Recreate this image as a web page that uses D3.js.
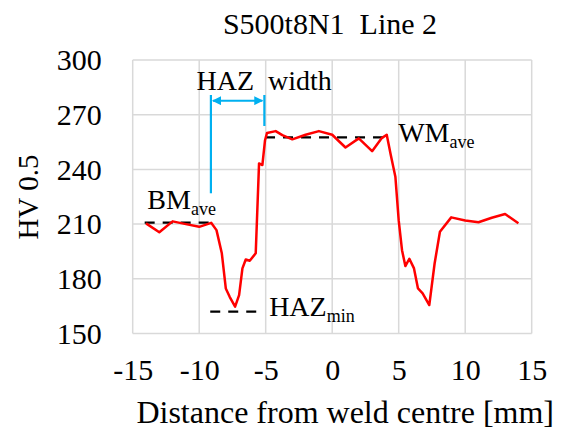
<!DOCTYPE html>
<html>
<head>
<meta charset="utf-8">
<script src="https://cdn.jsdelivr.net/npm/d3@7"></script>
</head>
<body style="margin:0;font-family:Liberation Serif">
<div id="chart"></div>
<script>
// hardness profile
var distance = [-14, -13, -12, -11, -10, -9.1, -8.7, -8.3, -8.0, -7.7, -7.3, -7.0, -6.75, -6.5, -6.2, -5.75,
  -5.5, -5.25, -5.05, -4.9, -4.25, -3.75, -3, -2, -1, 0, 1, 2, 3, 3.7, 4.1, 4.4, 4.75, 5.0, 5.25, 5.5,
  5.8, 6.15, 6.45, 6.8, 7.3, 7.7, 8.1, 8.95, 10, 11, 12, 13, 14];
var hardness = [210.4, 205.5, 211.5, 210, 208.5, 210.7, 206.7, 194, 174.7, 170, 164.7, 171, 185.7, 190.6, 189.9, 194,
  243.3, 242.4, 256, 260, 261, 258.8, 256.5, 259, 261, 259, 252, 257, 250, 257, 259, 248, 236, 212, 195.7, 187,
  191, 185.7, 174.7, 172, 165.6, 188.4, 205.8, 213.7, 212, 211, 213.5, 215.5, 210.5];

var xTicks = [-15, -10, -5, 0, 5, 10, 15];
var yTicks = [150, 180, 210, 240, 270, 300];

// averages / markers
var bmAve = [-14.1, -9.1, 210.8];     // x0, x1, y
var wmAve = [-5.05, 4.35, 257.6];
var hazMin = [-9.17, -5.6, 162];
var hazWidth = [-9.12, -5.1];         // left / right edges
var hazLeftLine = [280.8, 226.9];     // y top, y bottom
var hazRightLine = [280.8, 263.8];
var hazArrowY = 277.7;

var width = 563, height = 433;
var margin = {top: 60, right: 31.3, bottom: 99.5, left: 132.7};
var w = width - margin.left - margin.right,
    h = height - margin.top - margin.bottom;

var svg = d3.select("#chart").append("svg")
  .attr("width", width)
  .attr("height", height);

var defs = svg.append("defs");
defs.append("marker")
  .attr("id", "ah")
  .attr("viewBox", "0 0 10 10")
  .attr("refX", 9).attr("refY", 5)
  .attr("markerWidth", 4.5).attr("markerHeight", 4.5)
  .attr("orient", "auto-start-reverse")
  .append("path").attr("d", "M0,0 L10,5 L0,10 z").attr("fill", "#00b0f0");

var g = svg.append("g").attr("transform", "translate(" + margin.left + "," + margin.top + ")");

var x = d3.scaleLinear().domain([-15, 15]).range([0, w]);
var y = d3.scaleLinear().domain([150, 300]).range([h, 0]);

// grid
g.selectAll(".vgrid").data(xTicks).enter().append("line")
  .attr("x1", function(d) { return x(d); }).attr("x2", function(d) { return x(d); })
  .attr("y1", 0).attr("y2", h)
  .attr("stroke", "#d9d9d9").attr("stroke-width", 1.5);
g.selectAll(".hgrid").data(yTicks).enter().append("line")
  .attr("x1", 0).attr("x2", w)
  .attr("y1", function(d) { return y(d); }).attr("y2", function(d) { return y(d); })
  .attr("stroke", "#d9d9d9").attr("stroke-width", 1.5);

// axes (labels only)
var xAxis = g.append("g").attr("transform", "translate(0," + h + ")")
  .call(d3.axisBottom(x).tickValues(xTicks).tickSize(0).tickPadding(25).tickFormat(d3.format("d")));
var yAxis = g.append("g")
  .call(d3.axisLeft(y).tickValues(yTicks).tickSize(0).tickPadding(31).tickFormat(d3.format("d")));
[xAxis, yAxis].forEach(function(a) {
  a.attr("font-size", 30);
  a.select(".domain").remove();
  a.selectAll("text").attr("fill", "#000");
});
xAxis.selectAll("text").text(function(d) { return d < 0 ? "-" + Math.abs(d) : d; });

// dashed average lines
function dashed(a) {
  g.append("line")
    .attr("x1", x(a[0])).attr("x2", x(a[1]))
    .attr("y1", y(a[2])).attr("y2", y(a[2]))
    .attr("stroke", "#000").attr("stroke-width", 2.2)
    .attr("stroke-dasharray", "10,8");
}
dashed(bmAve);
dashed(wmAve);
dashed(hazMin);

// data line
var line = d3.line()
  .x(function(d, i) { return x(distance[i]); })
  .y(function(d) { return y(d); });
g.append("path").datum(hardness)
  .attr("d", line)
  .attr("fill", "none")
  .attr("stroke", "#ff0000")
  .attr("stroke-width", 2.5)
  .attr("stroke-linejoin", "round");

// HAZ width markers
g.append("line")
  .attr("x1", x(hazWidth[0])).attr("x2", x(hazWidth[0]))
  .attr("y1", y(hazLeftLine[0])).attr("y2", y(hazLeftLine[1]))
  .attr("stroke", "#00b0f0").attr("stroke-width", 2.2);
g.append("line")
  .attr("x1", x(hazWidth[1])).attr("x2", x(hazWidth[1]))
  .attr("y1", y(hazRightLine[0])).attr("y2", y(hazRightLine[1]))
  .attr("stroke", "#00b0f0").attr("stroke-width", 2.2);
g.append("line")
  .attr("x1", x(hazWidth[0]) + 2).attr("x2", x(hazWidth[1]) - 2)
  .attr("y1", y(hazArrowY)).attr("y2", y(hazArrowY))
  .attr("stroke", "#00b0f0").attr("stroke-width", 2)
  .attr("marker-start", "url(#ah)").attr("marker-end", "url(#ah)");

// labels with subscripts
function subLabel(px, py, main, sub) {
  var t = g.append("text").attr("x", x(px)).attr("y", y(py))
    .attr("font-size", 28).attr("fill", "#000");
  t.append("tspan").text(main);
  if (sub) t.append("tspan").attr("font-size", 18).attr("dy", 6).text(sub);
}
subLabel(-10.2, 283.5, "HAZ\u00a0\u00a0width");
subLabel(-13.9, 218.3, "BM", "ave");
subLabel(4.96, 255, "WM", "ave");
subLabel(-4.74, 159.6, "HAZ", "min");

// titles
svg.append("text")
  .attr("x", 330).attr("y", 34)
  .attr("text-anchor", "middle").attr("font-size", 30)
  .text("S500t8N1\u00a0\u00a0Line 2");
svg.append("text")
  .attr("x", margin.left + w / 2 + 13).attr("y", 423)
  .attr("text-anchor", "middle").attr("font-size", 32)
  .text("Distance from weld centre [mm]");
svg.append("text")
  .attr("transform", "translate(38," + 197 + ") rotate(-90)")
  .attr("text-anchor", "middle").attr("font-size", 29)
  .text("HV 0.5");

// serif everywhere, set last so nothing overrides it
svg.selectAll("g").attr("font-family", null);
svg.selectAll("text").style("font-family", "Liberation Serif");
</script>
</body>
</html>
